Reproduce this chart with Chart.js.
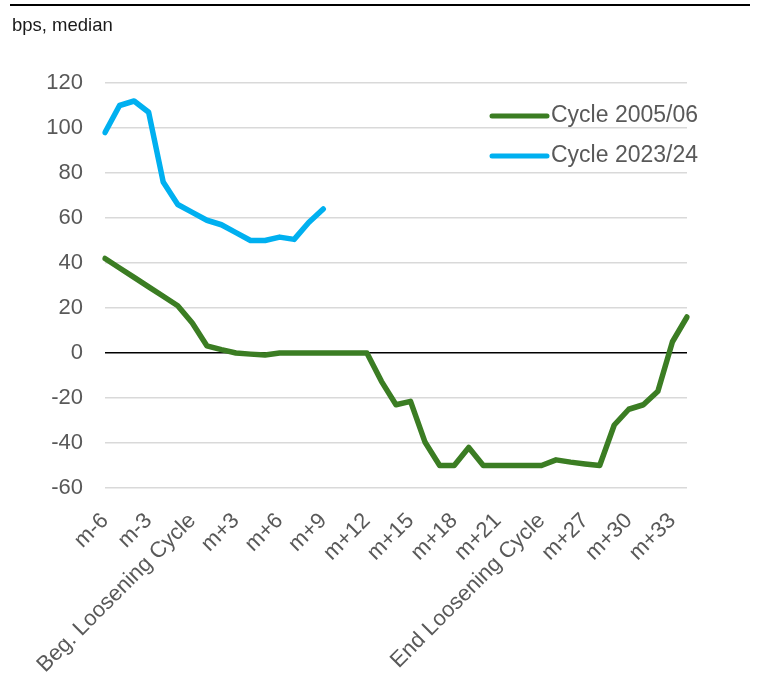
<!DOCTYPE html>
<html>
<head>
<meta charset="utf-8">
<script src="https://cdn.jsdelivr.net/npm/chart.js@4"></script>
<style>
    html, body { margin: 0; padding: 0; background: #fff; }
    #wrap { position: relative; width: 769px; height: 698px; overflow: hidden; }
    #rule { position: absolute; left: 10px; top: 4px; width: 740px; height: 0; border-top: 2px solid #000; }
    #unit { position: absolute; left: 12px; top: 14px; font: 18.5px "Liberation Sans", Arial, sans-serif; color: #1a1a1a; }
    #chart { position: absolute; left: 0; top: 0; }
</style>
</head>
<body>
<div id="wrap">
    <canvas id="chart" width="769" height="698"></canvas>
    <div id="rule"></div>
    <div id="unit">bps, median</div>
</div>
<script>
const months = [
    'm-6', 'm-5', 'm-4', 'm-3', 'm-2', 'm-1', 'Beg. Loosening Cycle',
    'm+1', 'm+2', 'm+3', 'm+4', 'm+5', 'm+6', 'm+7', 'm+8', 'm+9', 'm+10',
    'm+11', 'm+12', 'm+13', 'm+14', 'm+15', 'm+16', 'm+17', 'm+18', 'm+19',
    'm+20', 'm+21', 'm+22', 'm+23', 'End Loosening Cycle', 'm+25', 'm+26',
    'm+27', 'm+28', 'm+29', 'm+30', 'm+31', 'm+32', 'm+33', 'm+34'
];

const cycle0506 = [
    42, 37.8, 33.6, 29.4, 25.2, 21, 13.3, 3.2, 1.5, 0, -0.5, -0.9, 0, 0,
    0, 0, 0, 0, 0, -12.6, -23, -21.5, -39.7, -50, -50, -42, -50, -50,
    -50, -50, -50, -47.5, -48.5, -49.3, -50, -32, -25, -23, -17, 5, 16
];

const cycle2324 = [98, 110, 112, 107, 76, 66, 62.5, 59, 57, 53.5, 50, 50, 51.5, 50.5, 58, 64];

const yTicks = { min: -60, max: 120, step: 20 };

const GREEN = '#3B7D23';
const BLUE = '#00B0F0';
const TEXT = '#595959';
const FONT = '"Liberation Sans", Arial, sans-serif';

// legend drawn inside the plot, top right
const innerLegend = {
    id: 'innerLegend',
    afterDraw(chart) {
        const c = chart.ctx;
        const a = chart.chartArea;
        const x0 = a.right - 195;
        let y = a.top + 33;
        c.save();
        c.font = '23px ' + FONT;
        c.textBaseline = 'middle';
        chart.data.datasets.forEach(ds => {
            c.strokeStyle = ds.borderColor;
            c.lineWidth = 5;
            c.lineCap = 'round';
            c.beginPath();
            c.moveTo(x0, y);
            c.lineTo(x0 + 55, y);
            c.stroke();
            c.fillStyle = TEXT;
            c.fillText(ds.label, x0 + 59, y);
            y += 40;
        });
        c.restore();
    }
};

new Chart(document.getElementById('chart'), {
    type: 'line',
    data: {
        labels: months,
        datasets: [{
            label: 'Cycle 2005/06',
            data: cycle0506,
            borderColor: GREEN,
            borderWidth: 5.5,
            borderCapStyle: 'round',
            borderJoinStyle: 'round',
            pointRadius: 0,
            tension: 0,
            fill: false
        }, {
            label: 'Cycle 2023/24',
            data: cycle2324,
            borderColor: BLUE,
            borderWidth: 5.5,
            borderCapStyle: 'round',
            borderJoinStyle: 'round',
            pointRadius: 0,
            tension: 0,
            fill: false
        }]
    },
    options: {
        responsive: false,
        animation: false,
        layout: { padding: { top: 83, right: 82, bottom: 0, left: 0 } },
        plugins: {
            legend: { display: false },
            tooltip: { enabled: false }
        },
        scales: {
            x: {
                grid: { display: false, drawTicks: false },
                border: { display: false },
                afterFit: (s) => { s.height = 210; },
                ticks: {
                    autoSkip: false,
                    minRotation: 45,
                    maxRotation: 45,
                    padding: 20,
                    labelOffset: 0,
                    color: TEXT,
                    font: { family: FONT, size: 22 },
                    callback: function (v, i) { return i % 3 === 0 ? this.getLabelForValue(v) : ''; }
                }
            },
            y: {
                min: yTicks.min,
                max: yTicks.max,
                border: { display: false },
                afterFit: (s) => { s.width = 105; },
                grid: {
                    drawTicks: false,
                    lineWidth: 1.5,
                    color: (ctx) => ctx.tick && ctx.tick.value === 0 ? '#000' : '#D9D9D9'
                },
                ticks: {
                    stepSize: yTicks.step,
                    padding: 22,
                    color: TEXT,
                    font: { family: FONT, size: 22 }
                }
            }
        }
    },
    plugins: [innerLegend]
});
</script>
</body>
</html>
